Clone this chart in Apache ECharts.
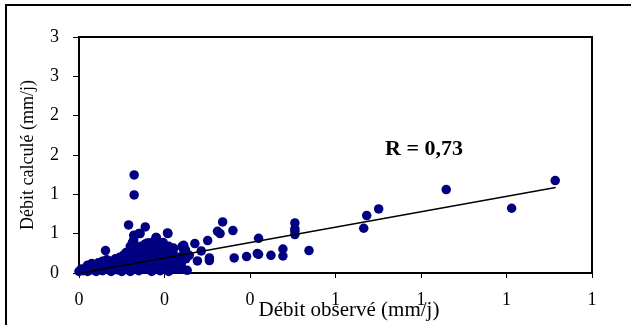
<!DOCTYPE html>
<html><head><meta charset="utf-8">
<script src="https://cdn.jsdelivr.net/npm/echarts@6/dist/echarts.min.js"></script>
<style>html,body{margin:0;padding:0;background:#fff}#c{width:631px;height:325px}</style>
</head><body><div id="c"></div>
<script>
// Observed discharge (mm/j)
const obsX = [
 1.114,1.012,0.859,0.701,0.673,0.666,0.538,0.505,0.505,0.505,0.505,0.477,0.477,0.449,0.420,0.420,0.392,0.363,0.360,0.336,0.330,0.324,0.301,0.305,0.305,0.277,0.271,0.286,0.258,0.242,0.249,0.239,0.253,0.221,0.221,0.208,0.197,0.180,0.143,0.155,0.129,0.129,0.116,0.062,0.140,0.128,0.128,0.128,0.128,0.241,0.245,0.214,0.198,0.181,0.207,0.417,
 0.000,0.005,0.010,0.015,0.020,0.025,0.030,0.035,0.040,0.045,0.050,0.055,0.060,0.065,0.070,0.075,0.080,0.085,0.090,0.095,0.100,0.100,0.105,0.110,0.110,0.115,0.120,0.120,0.120,0.125,0.125,0.130,0.130,0.135,0.140,0.140,0.145,0.150,0.150,0.155,0.160,0.160,0.165,0.170,0.170,0.175,0.180,0.180,0.185,0.190,0.190,0.195,0.200,0.200,0.205,0.210,0.210,0.215,0.220,0.225,0.230,0.235,0.175,0.160,0.145,0.095,0.085,0.070,
 0.020,0.030,0.045,0.055,0.065,0.075,0.085,0.090,0.100,0.105,0.110,0.115,0.120,0.125,0.135,0.140,0.145,0.150,0.155,0.160,0.165,0.170,0.175,0.180,0.185,0.190,0.195,0.200,0.205,0.210,0.215,0.220,0.225,0.230,0.240,0.245,0.250,0.140,0.150,0.160,0.100,0.090,0.130,0.135,0.200,0.185,0.165,0.155
];
// Calculated discharge (mm/j)
const calcY = [
 1.175,0.823,1.061,0.814,0.730,0.569,0.285,0.636,0.560,0.489,0.530,0.305,0.216,0.225,0.441,0.238,0.209,0.191,0.539,0.649,0.501,0.530,0.412,0.191,0.158,0.153,0.374,0.280,0.225,0.343,0.295,0.098,0.034,0.318,0.161,0.501,0.387,0.450,0.501,0.585,1.247,0.992,0.611,0.285,0.501,0.480,0.420,0.380,0.330,0.331,0.352,0.310,0.247,0.450,0.509,0.247,
 0.020,0.050,0.030,0.060,0.020,0.080,0.040,0.100,0.020,0.060,0.090,0.030,0.120,0.050,0.100,0.020,0.140,0.070,0.040,0.110,0.160,0.020,0.080,0.200,0.120,0.050,0.250,0.150,0.020,0.300,0.100,0.350,0.200,0.150,0.280,0.030,0.220,0.100,0.320,0.180,0.050,0.260,0.350,0.130,0.020,0.220,0.300,0.080,0.160,0.250,0.030,0.120,0.200,0.060,0.300,0.150,0.020,0.250,0.080,0.180,0.120,0.050,0.400,0.380,0.300,0.200,0.180,0.150,
 0.100,0.120,0.130,0.150,0.170,0.120,0.170,0.160,0.200,0.230,0.260,0.180,0.340,0.390,0.300,0.220,0.340,0.250,0.300,0.200,0.150,0.280,0.330,0.200,0.260,0.100,0.320,0.150,0.220,0.340,0.100,0.280,0.050,0.200,0.140,0.250,0.180,0.100,0.050,0.120,0.100,0.080,0.120,0.060,0.270,0.360,0.380,0.370
];
// Regression line end points
const trendX = [0.005, 1.115];
const trendY = [0.0, 1.087];
const xTicks = {min: 0, max: 1.2, step: 0.2};
const yTicks = {min: 0, max: 3, step: 0.5};
const rLabel = 'R = 0,73';

const FONT = '"Liberation Serif","Times New Roman",serif';
const chart = echarts.init(document.getElementById('c'), null, {renderer: 'canvas'});
const pts = obsX.map((x, i) => [x, calcY[i]]);
chart.setOption({
  animation: false,
  backgroundColor: '#fff',
  grid: {left: 79, top: 37, width: 513, height: 236, show: true, borderColor: '#000', borderWidth: 2, containLabel: false, outerBoundsMode: 'none'},
  xAxis: {
    type: 'value', min: xTicks.min, max: xTicks.max, interval: xTicks.step,
    name: 'Débit observé (mm/j)', nameLocation: 'middle', nameGap: 27, nameMoveOverlap: false,
    nameTextStyle: {fontFamily: FONT, fontSize: 21, color: '#000', padding: [0, 0, 0, 27]},
    axisLine: {show: true, lineStyle: {color: '#000', width: 2}},
    axisTick: {show: true, inside: false, length: 5, lineStyle: {color: '#000', width: 1}},
    axisLabel: {fontFamily: FONT, fontSize: 18, color: '#000', margin: 18, formatter: v => String(Math.round(v + 1e-9))},
    splitLine: {show: false}
  },
  yAxis: {
    type: 'value', min: yTicks.min, max: yTicks.max, interval: yTicks.step,
    name: 'Débit calculé (mm/j)', nameLocation: 'middle', nameGap: 42, nameMoveOverlap: false,
    nameTextStyle: {fontFamily: FONT, fontSize: 18, color: '#000'},
    axisLine: {show: true, lineStyle: {color: '#000', width: 2}},
    axisTick: {show: true, inside: false, length: 6, lineStyle: {color: '#000', width: 1}},
    axisLabel: {fontFamily: FONT, fontSize: 18, color: '#000', margin: 20, formatter: v => String(Math.round(v + 1e-9))},
    splitLine: {show: false}
  },
  graphic: [
    {type: 'rect', shape: {x: 6, y: 5, width: 700, height: 400}, style: {fill: 'none', stroke: '#000', lineWidth: 2}, silent: true, z: 100},
    {type: 'text', x: 424, y: 150, scaleX: 1.1, style: {text: rLabel, font: 'bold 20px ' + FONT, fill: '#000', align: 'center', verticalAlign: 'middle'}, z: 100}
  ],
  series: [
    {type: 'scatter', data: pts, symbol: 'circle', symbolSize: 9.5, clip: false, itemStyle: {color: '#000080', opacity: 1}, z: 2},
    {type: 'line', data: trendX.map((x, i) => [x, trendY[i]]), symbol: 'none', lineStyle: {color: '#000', width: 1.3}, z: 3}
  ]
});
</script></body></html>
